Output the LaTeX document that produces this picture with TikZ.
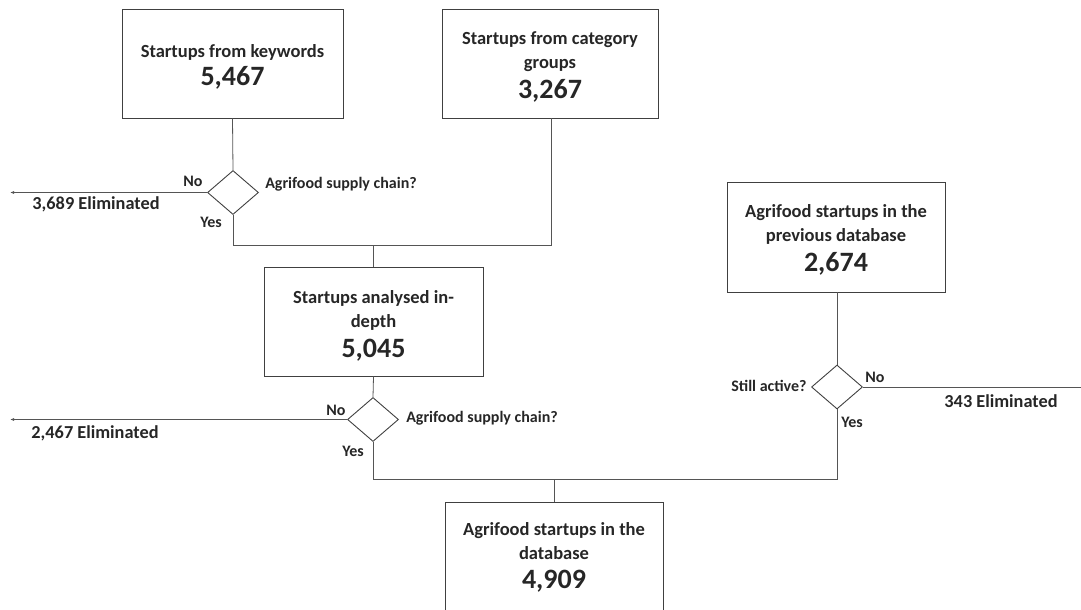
\documentclass[tikz,border=0pt]{standalone}
\usepackage{fontspec}
\setmainfont{Carlito}
\usetikzlibrary{shapes.geometric,arrows.meta}
\definecolor{boxc}{HTML}{404040}
\definecolor{linec}{HTML}{555555}
\begin{document}
\begin{tikzpicture}[x=1pt,y=-1pt,
  box/.style={draw=boxc,line width=0.9pt,inner sep=0pt},
  btext/.style={align=center,font=\bfseries\fontsize{18.5}{24}\selectfont,text=black!85},
  dia/.style={draw=boxc,line width=0.9pt,diamond,minimum width=51pt,minimum height=44pt,inner sep=0pt,aspect=1.15},
  lbl/.style={font=\bfseries\fontsize{16}{18}\selectfont,text=black!85},
  elim/.style={font=\bfseries\fontsize{18.3}{20}\selectfont,text=black!85},
  conn/.style={draw=linec,line width=0.8pt},
  arr/.style={conn,-{Latex[length=4pt,width=3pt]}}
]
\useasboundingbox (0,0) rectangle (1081,610);
\clip (0,0) rectangle (1081,610);
\newcommand{\bignum}[1]{{\fontsize{28}{30}\selectfont #1}}
% boxes
\node[box,minimum width=221pt,minimum height=109pt] (b1) at (232.5,63.5) {};
\node[btext] (t1) at (232.5,66.5) {Startups from keywords\\[4pt]\bignum{5,467}};
\node[box,minimum width=216pt,minimum height=109pt] (b2) at (550,63.5) {};
\node[btext] (t2) at (550,67) {Startups from category\\groups\\[5.5pt]\bignum{3,267}};
\node[box,minimum width=219pt,minimum height=109pt] (b3) at (373.5,321.5) {};
\node[btext] (t3) at (373.5,326) {Startups analysed in-\\depth\\[5.5pt]\bignum{5,045}};
\node[box,minimum width=218pt,minimum height=110pt] (b4) at (836,237) {};
\node[btext] (t4) at (836,240) {Agrifood startups in the\\previous database\\[5.5pt]\bignum{2,674}};
\node[box,minimum width=218pt,minimum height=120pt] (b5) at (554,562) {};
\node[btext] (t5) at (554,557.5) {Agrifood startups in the\\database\\[5pt]\bignum{4,909}};
% diamonds
\node[dia] (d1) at (233,192.5) {};
\node[dia] (d2) at (373,419.5) {};
\node[dia] (d3) at (837,387) {};
% coordinates
\coordinate (j1) at (233,245);
\coordinate (j1r) at (551,245);
\coordinate (j2) at (373,479);
\coordinate (j2r) at (837,479);
\coordinate (e1) at (10,192.5);
\coordinate (e2) at (10,419.5);
\coordinate (e3) at (1081,387);
% connectors
\draw[conn] (b1.south) -- (d1.north);
\draw[conn] (d1.south) -- (j1) -- (j1r) -- (b2.south -| j1r);
\draw[conn] (b3.north |- j1) -- (b3.north);
\draw[arr] (d1.west) -- (e1);
\draw[conn] (b3.south) -- (d2.north);
\draw[arr] (d2.west) -- (e2);
\draw[conn] (d2.south) -- (j2) -- (j2r) -- (d3.south);
\draw[conn] (b4.south -| d3.north) -- (d3.north);
\draw[conn] (d3.east) -- (e3);
\draw[conn] (b5.north |- j2) -- (b5.north);
% labels
\node[lbl] (no1) at (193,181) {No};
\node[lbl] (yes1) at (211,222) {Yes};
\node[lbl] (q1) at (341,184) {Agrifood supply chain?};
\node[elim] (el1) at (96,204) {3,689 Eliminated};
\node[lbl] (no2) at (336,410) {No};
\node[lbl] (yes2) at (353,451) {Yes};
\node[lbl] (q2) at (482,418) {Agrifood supply chain?};
\node[elim] (el2) at (95,433) {2,467 Eliminated};
\node[lbl] (no3) at (875,377) {No};
\node[lbl] (yes3) at (852,422) {Yes};
\node[lbl] (q3) at (769,386) {Still active?};
\node[elim] (el3) at (1001,401) {343 Eliminated};
\end{tikzpicture}
\end{document}
